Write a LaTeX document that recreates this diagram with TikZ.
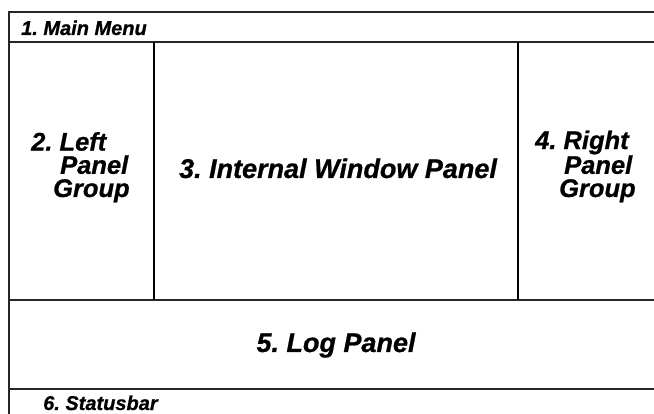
\documentclass[tikz,border=0pt]{standalone}
\usepackage{fontspec}
\setmainfont{Liberation Sans}[BoldItalicFeatures={FakeBold=0.8}]
\frenchspacing
\begin{document}
\begin{tikzpicture}[x=1pt,y=-1pt,
  frame/.style={line width=1.6pt,black!85},
  bigtext/.style={font=\fontsize{27}{30}\selectfont\bfseries\itshape,inner sep=0pt},
  midtext/.style={font=\fontsize{25.5}{23.2}\selectfont\bfseries\itshape,inner sep=0pt,align=left},
  smalltext/.style={font=\fontsize{20}{22}\selectfont\bfseries\itshape,inner sep=0pt}]
  \useasboundingbox (0,0) rectangle (654,414);
  \fill[white] (0,0) rectangle (654,414);
  % outer frame: left edge and top edge
  \draw[frame] (654,12) -- (9,12) -- (9,414);
  % horizontal dividers
  \draw[frame] (9,42) -- (654,42);
  \draw[frame] (9,300) -- (654,300);
  \draw[frame] (9,389) -- (654,389);
  % vertical dividers of the middle band
  \draw[frame,black] (154,42) -- (154,300);
  \draw[frame,black] (518,42) -- (518,300);
  % labels (multi-line nodes sit on the baseline of their last line)
  \node[smalltext,anchor=base west] (menu) at (21,35) {1. Main Menu};
  \node[midtext,anchor=base west] (left) at (31,197)
    {2. Left\\\hspace*{29pt}Panel\\\hspace*{22pt}Group};
  \node[bigtext,anchor=base] (inner) at (338,178) {3. Internal Window Panel};
  \node[midtext,anchor=base west] (right) at (535,197)
    {4. Right\\\hspace*{29pt}Panel\\\hspace*{24pt}Group};
  \node[bigtext,anchor=base] (log) at (336,352) {5. Log Panel};
  \node[smalltext,anchor=base west] (status) at (43,410) {6. Statusbar};
\end{tikzpicture}
\end{document}
